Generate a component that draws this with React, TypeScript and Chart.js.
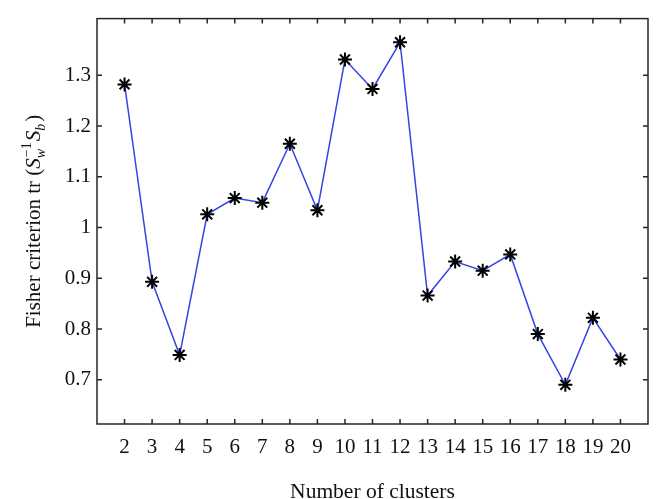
import React, { useEffect, useRef } from "react";
import { Chart, registerables } from "chart.js";

Chart.register(...registerables);

const clusters = [2, 3, 4, 5, 6, 7, 8, 9, 10, 11, 12, 13, 14, 15, 16, 17, 18, 19, 20];
const fisher = [1.282, 0.893, 0.749, 1.026, 1.058, 1.049, 1.165, 1.034, 1.331, 1.273, 1.365, 0.866, 0.933, 0.915, 0.947, 0.79, 0.69, 0.822, 0.74];
const yTickValues = [0.7, 0.8, 0.9, 1.0, 1.1, 1.2, 1.3];
const xTickValues = clusters;
const xTitle = "Number of clusters";
const yTitleMain = "Fisher criterion tr (";

const FONT = '"Liberation Serif", "DejaVu Serif", serif';

const framePlugin = {
  id: "frame",
  beforeDatasetsDraw(chart: any) {
    const { ctx, chartArea: a, scales } = chart;
    ctx.save();
    ctx.strokeStyle = "#262626";
    ctx.lineWidth = 1.5;
    ctx.strokeRect(a.left, a.top, a.right - a.left, a.bottom - a.top);
    ctx.beginPath();
    const tl = 5;
    scales.x.ticks.forEach((t: any) => {
      const px = scales.x.getPixelForValue(t.value);
      ctx.moveTo(px, a.bottom);
      ctx.lineTo(px, a.bottom - tl);
      ctx.moveTo(px, a.top);
      ctx.lineTo(px, a.top + tl);
    });
    scales.y.ticks.forEach((t: any) => {
      const py = scales.y.getPixelForValue(t.value);
      ctx.moveTo(a.left, py);
      ctx.lineTo(a.left + tl, py);
      ctx.moveTo(a.right, py);
      ctx.lineTo(a.right - tl, py);
    });
    ctx.stroke();
    ctx.restore();
  },
  afterDraw(chart: any) {
    const { ctx, chartArea: a } = chart;
    ctx.save();
    ctx.fillStyle = "#111";
    // x title
    ctx.font = `21.5px ${FONT}`;
    ctx.textAlign = "center";
    ctx.textBaseline = "alphabetic";
    ctx.fillText(xTitle, (a.left + a.right) / 2, 498);

    // y title with sub/superscripts
    const big = 21;
    const small = 14;
    const normal = `${big}px ${FONT}`;
    const italic = `italic ${big}px ${FONT}`;
    const sNormal = `${small}px ${FONT}`;
    const sItalic = `italic ${small}px ${FONT}`;
    ctx.font = normal;
    const w1 = ctx.measureText(yTitleMain).width;
    ctx.font = italic;
    const wS = ctx.measureText("S").width;
    ctx.font = sNormal;
    const wSup = ctx.measureText("\u22121").width;
    ctx.font = sItalic;
    const wW = ctx.measureText("w").width;
    const wB = ctx.measureText("b").width;
    ctx.font = normal;
    const wP = ctx.measureText(")").width;
    const total = w1 + wS + Math.max(wSup, wW) + 2 + wS + wB + 2 + wP;
    ctx.translate(40, (a.top + a.bottom) / 2);
    ctx.rotate(-Math.PI / 2);
    ctx.textAlign = "left";
    let x = -total / 2;
    ctx.font = normal;
    ctx.fillText(yTitleMain, x, 0);
    x += w1;
    ctx.font = italic;
    ctx.fillText("S", x, 0);
    x += wS;
    ctx.font = sNormal;
    ctx.fillText("\u22121", x + 1, -9);
    ctx.font = sItalic;
    ctx.fillText("w", x, 5);
    x += Math.max(wSup, wW) + 2;
    ctx.font = italic;
    ctx.fillText("S", x, 0);
    x += wS;
    ctx.font = sItalic;
    ctx.fillText("b", x, 5);
    x += wB + 2;
    ctx.font = normal;
    ctx.fillText(")", x, 0);
    ctx.restore();
  },
};

export default function App() {
  const canvasRef = useRef<HTMLCanvasElement | null>(null);

  useEffect(() => {
    if (!canvasRef.current) return;
    const chart = new Chart(canvasRef.current, {
      type: "line",
      data: {
        datasets: [
          {
            data: clusters.map((c, i) => ({ x: c, y: fisher[i] })),
            borderColor: "rgb(50, 70, 225)",
            borderWidth: 1.5,
            tension: 0,
            fill: false,
            pointStyle: "star",
            pointRadius: 7,
            pointBorderColor: "#000",
            pointBackgroundColor: "#000",
            pointBorderWidth: 2,
            pointHoverRadius: 7,
          },
        ],
      },
      options: {
        animation: false,
        responsive: true,
        maintainAspectRatio: false,
        layout: { padding: { top: 14, right: 14, left: 0, bottom: 0 } },
        plugins: { legend: { display: false }, tooltip: { enabled: false } },
        scales: {
          x: {
            type: "linear",
            min: 1,
            max: 21,
            grid: { display: false, drawTicks: false },
            border: { display: false },
            afterBuildTicks: (s: any) => {
              s.ticks = xTickValues.map((v) => ({ value: v }));
            },
            afterFit: (s: any) => {
              s.height = 75;
            },
            ticks: {
              autoSkip: false,
              maxRotation: 0,
              padding: 11,
              color: "#111",
              font: { family: FONT, size: 21 },
              callback: (v: any) => String(v),
            },
          },
          y: {
            type: "linear",
            min: 0.6129,
            max: 1.4116,
            grid: { display: false, drawTicks: false },
            border: { display: false },
            afterBuildTicks: (s: any) => {
              s.ticks = yTickValues.map((v) => ({ value: v }));
            },
            afterFit: (s: any) => {
              s.width = 97;
            },
            ticks: {
              padding: 6,
              color: "#111",
              font: { family: FONT, size: 21 },
              callback: (v: any) => String(Number(Number(v).toFixed(1))),
            },
          },
        },
      },
      plugins: [framePlugin],
    });
    return () => chart.destroy();
  }, []);

  return (
    <div style={{ position: "fixed", left: 0, top: 0, width: 662, height: 499, background: "#fff" }}>
      <canvas ref={canvasRef} />
    </div>
  );
}
